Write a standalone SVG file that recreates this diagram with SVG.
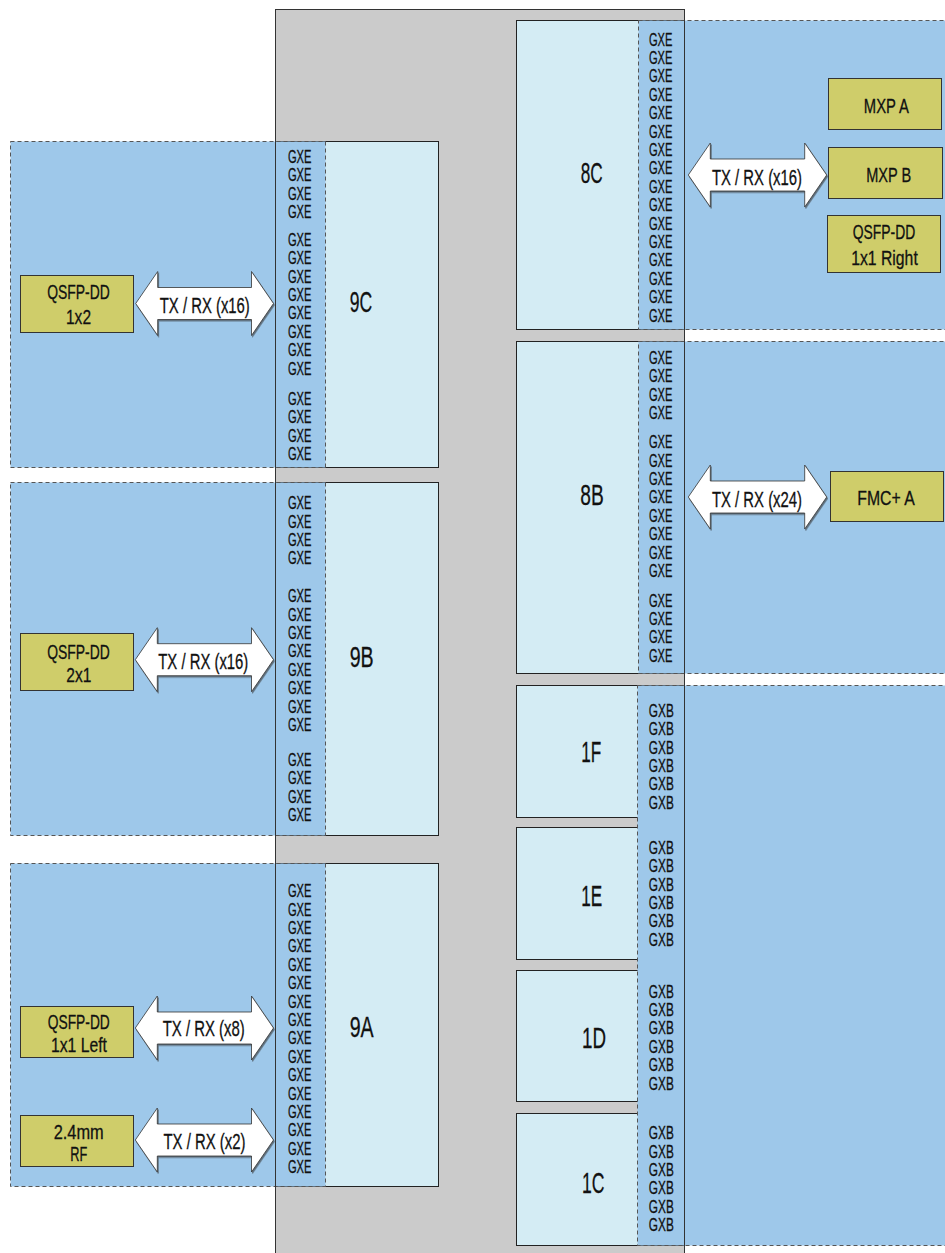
<svg xmlns="http://www.w3.org/2000/svg" width="945" height="1253" viewBox="0 0 945 1253">
<defs>
<style>
text{font-family:"Liberation Sans Narrow","Liberation Sans",Arial,sans-serif;fill:#111;stroke:#111;stroke-width:0.3}
.frame{fill:#cbcbcb}
.outline{fill:none;stroke:#333;stroke-width:1}
.bank{fill:#d4ecf4;stroke:#222;stroke-width:1}
.zone{fill:#9ec8ea;stroke:#555;stroke-width:1;stroke-dasharray:4 3}
.box{fill:#cfcd6a;stroke:#333;stroke-width:1}
.arrow{fill:#fff;stroke:#333;stroke-width:0.8;filter:url(#sh)}
.g{font-size:18px;text-anchor:middle}
.lbl{font-size:30px;text-anchor:middle}
.bx{font-size:21px;text-anchor:middle}
.tx{font-size:22px;text-anchor:middle}
</style>
<filter id="sh" x="-10%" y="-10%" width="120%" height="130%">
<feDropShadow dx="1" dy="1.5" stdDeviation="0.6" flood-color="#333" flood-opacity="0.6"/>
</filter>
</defs>

<g id="frame"><rect class="frame" x="275.5" y="9.5" width="409" height="1250"/></g>

<g id="bank-9C"><rect class="bank" x="275.5" y="141.5" width="163" height="326"/><text class="lbl" x="361" y="311.7" textLength="22.5" lengthAdjust="spacingAndGlyphs">9C</text></g>
<g id="bank-9B"><rect class="bank" x="275.5" y="482.5" width="163" height="353"/><text class="lbl" x="361.7" y="666.7" textLength="24" lengthAdjust="spacingAndGlyphs">9B</text></g>
<g id="bank-9A"><rect class="bank" x="275.5" y="863.5" width="163" height="323"/><text class="lbl" x="361.7" y="1036.7" textLength="24" lengthAdjust="spacingAndGlyphs">9A</text></g>
<g id="bank-8C"><rect class="bank" x="516.5" y="20.5" width="168" height="309"/><text class="lbl" x="591.7" y="183.3" textLength="22" lengthAdjust="spacingAndGlyphs">8C</text></g>
<g id="bank-8B"><rect class="bank" x="516.5" y="341.5" width="168" height="332"/><text class="lbl" x="592" y="505" textLength="23.5" lengthAdjust="spacingAndGlyphs">8B</text></g>
<g id="bank-1F"><rect class="bank" x="516.5" y="685.5" width="168" height="132"/><text class="lbl" x="591.2" y="761.7" textLength="20" lengthAdjust="spacingAndGlyphs">1F</text></g>
<g id="bank-1E"><rect class="bank" x="516.5" y="827.5" width="168" height="132"/><text class="lbl" x="591.7" y="905.7" textLength="21" lengthAdjust="spacingAndGlyphs">1E</text></g>
<g id="bank-1D"><rect class="bank" x="516.5" y="970.5" width="168" height="131"/><text class="lbl" x="594" y="1047.7" textLength="24" lengthAdjust="spacingAndGlyphs">1D</text></g>
<g id="bank-1C"><rect class="bank" x="516.5" y="1113.5" width="168" height="132"/><text class="lbl" x="593.2" y="1193.3" textLength="22.5" lengthAdjust="spacingAndGlyphs">1C</text></g>

<g id="zone-9C"><rect class="zone" x="10.5" y="141.5" width="315" height="326"/>
<text class="g" x="299.7" y="163" textLength="23.5" lengthAdjust="spacingAndGlyphs">GXE</text>
<text class="g" x="299.7" y="181.4" textLength="23.5" lengthAdjust="spacingAndGlyphs">GXE</text>
<text class="g" x="299.7" y="199.8" textLength="23.5" lengthAdjust="spacingAndGlyphs">GXE</text>
<text class="g" x="299.7" y="218.2" textLength="23.5" lengthAdjust="spacingAndGlyphs">GXE</text>
<text class="g" x="299.7" y="245.8" textLength="23.5" lengthAdjust="spacingAndGlyphs">GXE</text>
<text class="g" x="299.7" y="264.2" textLength="23.5" lengthAdjust="spacingAndGlyphs">GXE</text>
<text class="g" x="299.7" y="282.6" textLength="23.5" lengthAdjust="spacingAndGlyphs">GXE</text>
<text class="g" x="299.7" y="301" textLength="23.5" lengthAdjust="spacingAndGlyphs">GXE</text>
<text class="g" x="299.7" y="319.4" textLength="23.5" lengthAdjust="spacingAndGlyphs">GXE</text>
<text class="g" x="299.7" y="337.8" textLength="23.5" lengthAdjust="spacingAndGlyphs">GXE</text>
<text class="g" x="299.7" y="356.2" textLength="23.5" lengthAdjust="spacingAndGlyphs">GXE</text>
<text class="g" x="299.7" y="374.6" textLength="23.5" lengthAdjust="spacingAndGlyphs">GXE</text>
<text class="g" x="299.7" y="404.8" textLength="23.5" lengthAdjust="spacingAndGlyphs">GXE</text>
<text class="g" x="299.7" y="423.2" textLength="23.5" lengthAdjust="spacingAndGlyphs">GXE</text>
<text class="g" x="299.7" y="441.6" textLength="23.5" lengthAdjust="spacingAndGlyphs">GXE</text>
<text class="g" x="299.7" y="460" textLength="23.5" lengthAdjust="spacingAndGlyphs">GXE</text>
</g>

<g id="zone-9B"><rect class="zone" x="10.5" y="482.5" width="315" height="353"/>
<text class="g" x="299.7" y="509.2" textLength="23.5" lengthAdjust="spacingAndGlyphs">GXE</text>
<text class="g" x="299.7" y="527.6" textLength="23.5" lengthAdjust="spacingAndGlyphs">GXE</text>
<text class="g" x="299.7" y="546" textLength="23.5" lengthAdjust="spacingAndGlyphs">GXE</text>
<text class="g" x="299.7" y="564.4" textLength="23.5" lengthAdjust="spacingAndGlyphs">GXE</text>
<text class="g" x="299.7" y="602.2" textLength="23.5" lengthAdjust="spacingAndGlyphs">GXE</text>
<text class="g" x="299.7" y="620.6" textLength="23.5" lengthAdjust="spacingAndGlyphs">GXE</text>
<text class="g" x="299.7" y="639" textLength="23.5" lengthAdjust="spacingAndGlyphs">GXE</text>
<text class="g" x="299.7" y="657.4" textLength="23.5" lengthAdjust="spacingAndGlyphs">GXE</text>
<text class="g" x="299.7" y="675.8" textLength="23.5" lengthAdjust="spacingAndGlyphs">GXE</text>
<text class="g" x="299.7" y="694.2" textLength="23.5" lengthAdjust="spacingAndGlyphs">GXE</text>
<text class="g" x="299.7" y="712.6" textLength="23.5" lengthAdjust="spacingAndGlyphs">GXE</text>
<text class="g" x="299.7" y="731" textLength="23.5" lengthAdjust="spacingAndGlyphs">GXE</text>
<text class="g" x="299.7" y="765.8" textLength="23.5" lengthAdjust="spacingAndGlyphs">GXE</text>
<text class="g" x="299.7" y="784.2" textLength="23.5" lengthAdjust="spacingAndGlyphs">GXE</text>
<text class="g" x="299.7" y="802.6" textLength="23.5" lengthAdjust="spacingAndGlyphs">GXE</text>
<text class="g" x="299.7" y="821" textLength="23.5" lengthAdjust="spacingAndGlyphs">GXE</text>
</g>

<g id="zone-9A"><rect class="zone" x="10.5" y="863.5" width="315" height="323"/>
<text class="g" x="299.7" y="897.2" textLength="23.5" lengthAdjust="spacingAndGlyphs">GXE</text>
<text class="g" x="299.7" y="915.6" textLength="23.5" lengthAdjust="spacingAndGlyphs">GXE</text>
<text class="g" x="299.7" y="934" textLength="23.5" lengthAdjust="spacingAndGlyphs">GXE</text>
<text class="g" x="299.7" y="952.4" textLength="23.5" lengthAdjust="spacingAndGlyphs">GXE</text>
<text class="g" x="299.7" y="970.8" textLength="23.5" lengthAdjust="spacingAndGlyphs">GXE</text>
<text class="g" x="299.7" y="989.2" textLength="23.5" lengthAdjust="spacingAndGlyphs">GXE</text>
<text class="g" x="299.7" y="1007.6" textLength="23.5" lengthAdjust="spacingAndGlyphs">GXE</text>
<text class="g" x="299.7" y="1026" textLength="23.5" lengthAdjust="spacingAndGlyphs">GXE</text>
<text class="g" x="299.7" y="1044.4" textLength="23.5" lengthAdjust="spacingAndGlyphs">GXE</text>
<text class="g" x="299.7" y="1062.8" textLength="23.5" lengthAdjust="spacingAndGlyphs">GXE</text>
<text class="g" x="299.7" y="1081.2" textLength="23.5" lengthAdjust="spacingAndGlyphs">GXE</text>
<text class="g" x="299.7" y="1099.6" textLength="23.5" lengthAdjust="spacingAndGlyphs">GXE</text>
<text class="g" x="299.7" y="1118" textLength="23.5" lengthAdjust="spacingAndGlyphs">GXE</text>
<text class="g" x="299.7" y="1136.4" textLength="23.5" lengthAdjust="spacingAndGlyphs">GXE</text>
<text class="g" x="299.7" y="1154.8" textLength="23.5" lengthAdjust="spacingAndGlyphs">GXE</text>
<text class="g" x="299.7" y="1173.2" textLength="23.5" lengthAdjust="spacingAndGlyphs">GXE</text>
</g>

<g id="zone-8C"><rect class="zone" x="638.5" y="20.5" width="312" height="309"/>
<text class="g" x="660.7" y="45.5" textLength="23.5" lengthAdjust="spacingAndGlyphs">GXE</text>
<text class="g" x="660.7" y="63.9" textLength="23.5" lengthAdjust="spacingAndGlyphs">GXE</text>
<text class="g" x="660.7" y="82.3" textLength="23.5" lengthAdjust="spacingAndGlyphs">GXE</text>
<text class="g" x="660.7" y="100.7" textLength="23.5" lengthAdjust="spacingAndGlyphs">GXE</text>
<text class="g" x="660.7" y="119.1" textLength="23.5" lengthAdjust="spacingAndGlyphs">GXE</text>
<text class="g" x="660.7" y="137.5" textLength="23.5" lengthAdjust="spacingAndGlyphs">GXE</text>
<text class="g" x="660.7" y="155.9" textLength="23.5" lengthAdjust="spacingAndGlyphs">GXE</text>
<text class="g" x="660.7" y="174.3" textLength="23.5" lengthAdjust="spacingAndGlyphs">GXE</text>
<text class="g" x="660.7" y="192.7" textLength="23.5" lengthAdjust="spacingAndGlyphs">GXE</text>
<text class="g" x="660.7" y="211.1" textLength="23.5" lengthAdjust="spacingAndGlyphs">GXE</text>
<text class="g" x="660.7" y="229.5" textLength="23.5" lengthAdjust="spacingAndGlyphs">GXE</text>
<text class="g" x="660.7" y="247.9" textLength="23.5" lengthAdjust="spacingAndGlyphs">GXE</text>
<text class="g" x="660.7" y="266.3" textLength="23.5" lengthAdjust="spacingAndGlyphs">GXE</text>
<text class="g" x="660.7" y="284.7" textLength="23.5" lengthAdjust="spacingAndGlyphs">GXE</text>
<text class="g" x="660.7" y="303.1" textLength="23.5" lengthAdjust="spacingAndGlyphs">GXE</text>
<text class="g" x="660.7" y="321.5" textLength="23.5" lengthAdjust="spacingAndGlyphs">GXE</text>
</g>

<g id="zone-8B"><rect class="zone" x="638.5" y="341.5" width="312" height="332"/>
<text class="g" x="660.7" y="363.8" textLength="23.5" lengthAdjust="spacingAndGlyphs">GXE</text>
<text class="g" x="660.7" y="382.2" textLength="23.5" lengthAdjust="spacingAndGlyphs">GXE</text>
<text class="g" x="660.7" y="400.6" textLength="23.5" lengthAdjust="spacingAndGlyphs">GXE</text>
<text class="g" x="660.7" y="419" textLength="23.5" lengthAdjust="spacingAndGlyphs">GXE</text>
<text class="g" x="660.7" y="448.2" textLength="23.5" lengthAdjust="spacingAndGlyphs">GXE</text>
<text class="g" x="660.7" y="466.6" textLength="23.5" lengthAdjust="spacingAndGlyphs">GXE</text>
<text class="g" x="660.7" y="485" textLength="23.5" lengthAdjust="spacingAndGlyphs">GXE</text>
<text class="g" x="660.7" y="503.4" textLength="23.5" lengthAdjust="spacingAndGlyphs">GXE</text>
<text class="g" x="660.7" y="521.8" textLength="23.5" lengthAdjust="spacingAndGlyphs">GXE</text>
<text class="g" x="660.7" y="540.2" textLength="23.5" lengthAdjust="spacingAndGlyphs">GXE</text>
<text class="g" x="660.7" y="558.6" textLength="23.5" lengthAdjust="spacingAndGlyphs">GXE</text>
<text class="g" x="660.7" y="577" textLength="23.5" lengthAdjust="spacingAndGlyphs">GXE</text>
<text class="g" x="660.7" y="606.5" textLength="23.5" lengthAdjust="spacingAndGlyphs">GXE</text>
<text class="g" x="660.7" y="624.9" textLength="23.5" lengthAdjust="spacingAndGlyphs">GXE</text>
<text class="g" x="660.7" y="643.3" textLength="23.5" lengthAdjust="spacingAndGlyphs">GXE</text>
<text class="g" x="660.7" y="661.7" textLength="23.5" lengthAdjust="spacingAndGlyphs">GXE</text>
</g>

<g id="zone-1"><rect class="zone" x="637.5" y="685.5" width="313" height="560"/>
<text class="g" x="661.3" y="716.7" textLength="25" lengthAdjust="spacingAndGlyphs">GXB</text>
<text class="g" x="661.3" y="735.1" textLength="25" lengthAdjust="spacingAndGlyphs">GXB</text>
<text class="g" x="661.3" y="753.5" textLength="25" lengthAdjust="spacingAndGlyphs">GXB</text>
<text class="g" x="661.3" y="771.9" textLength="25" lengthAdjust="spacingAndGlyphs">GXB</text>
<text class="g" x="661.3" y="790.3" textLength="25" lengthAdjust="spacingAndGlyphs">GXB</text>
<text class="g" x="661.3" y="808.7" textLength="25" lengthAdjust="spacingAndGlyphs">GXB</text>
<text class="g" x="661.3" y="853.8" textLength="25" lengthAdjust="spacingAndGlyphs">GXB</text>
<text class="g" x="661.3" y="872.2" textLength="25" lengthAdjust="spacingAndGlyphs">GXB</text>
<text class="g" x="661.3" y="890.6" textLength="25" lengthAdjust="spacingAndGlyphs">GXB</text>
<text class="g" x="661.3" y="909" textLength="25" lengthAdjust="spacingAndGlyphs">GXB</text>
<text class="g" x="661.3" y="927.4" textLength="25" lengthAdjust="spacingAndGlyphs">GXB</text>
<text class="g" x="661.3" y="945.8" textLength="25" lengthAdjust="spacingAndGlyphs">GXB</text>
<text class="g" x="661.3" y="997.5" textLength="25" lengthAdjust="spacingAndGlyphs">GXB</text>
<text class="g" x="661.3" y="1015.9" textLength="25" lengthAdjust="spacingAndGlyphs">GXB</text>
<text class="g" x="661.3" y="1034.3" textLength="25" lengthAdjust="spacingAndGlyphs">GXB</text>
<text class="g" x="661.3" y="1052.7" textLength="25" lengthAdjust="spacingAndGlyphs">GXB</text>
<text class="g" x="661.3" y="1071.1" textLength="25" lengthAdjust="spacingAndGlyphs">GXB</text>
<text class="g" x="661.3" y="1089.5" textLength="25" lengthAdjust="spacingAndGlyphs">GXB</text>
<text class="g" x="661.3" y="1139.2" textLength="25" lengthAdjust="spacingAndGlyphs">GXB</text>
<text class="g" x="661.3" y="1157.6" textLength="25" lengthAdjust="spacingAndGlyphs">GXB</text>
<text class="g" x="661.3" y="1176" textLength="25" lengthAdjust="spacingAndGlyphs">GXB</text>
<text class="g" x="661.3" y="1194.4" textLength="25" lengthAdjust="spacingAndGlyphs">GXB</text>
<text class="g" x="661.3" y="1212.8" textLength="25" lengthAdjust="spacingAndGlyphs">GXB</text>
<text class="g" x="661.3" y="1231.2" textLength="25" lengthAdjust="spacingAndGlyphs">GXB</text>
</g>

<g id="frame-outline"><rect class="outline" x="275.5" y="9.5" width="409" height="1250"/></g>

<g id="qsfp-1x2"><rect class="box" x="20.5" y="275.5" width="113" height="57"/>
<text class="bx" x="78.5" y="298.5" textLength="62.5" lengthAdjust="spacingAndGlyphs">QSFP-DD</text>
<text class="bx" x="78.5" y="324.2" textLength="25" lengthAdjust="spacingAndGlyphs">1x2</text></g>
<g id="qsfp-2x1"><rect class="box" x="20.5" y="633.5" width="113" height="57"/>
<text class="bx" x="78.5" y="658.5" textLength="62.5" lengthAdjust="spacingAndGlyphs">QSFP-DD</text>
<text class="bx" x="78.8" y="681.9" textLength="25" lengthAdjust="spacingAndGlyphs">2x1</text></g>
<g id="qsfp-1x1-left"><rect class="box" x="20.5" y="1006.5" width="113" height="51"/>
<text class="bx" x="78.8" y="1029.2" textLength="62" lengthAdjust="spacingAndGlyphs">QSFP-DD</text>
<text class="bx" x="79" y="1051.9" textLength="56" lengthAdjust="spacingAndGlyphs">1x1 Left</text></g>
<g id="rf-2-4mm"><rect class="box" x="20.5" y="1115.5" width="113" height="51"/>
<text class="bx" x="78.7" y="1138.5" textLength="50" lengthAdjust="spacingAndGlyphs">2.4mm</text>
<text class="bx" x="78.7" y="1160.9" textLength="17" lengthAdjust="spacingAndGlyphs">RF</text></g>
<g id="mxp-a"><rect class="box" x="828.5" y="78.5" width="113" height="51"/>
<text class="bx" x="886.3" y="112.5" textLength="45" lengthAdjust="spacingAndGlyphs">MXP A</text></g>
<g id="mxp-b"><rect class="box" x="828.5" y="147.5" width="114" height="51"/>
<text class="bx" x="888.7" y="181.9" textLength="45" lengthAdjust="spacingAndGlyphs">MXP B</text></g>
<g id="qsfp-1x1-right"><rect class="box" x="827.5" y="215.5" width="113" height="57"/>
<text class="bx" x="884" y="239.2" textLength="62.5" lengthAdjust="spacingAndGlyphs">QSFP-DD</text>
<text class="bx" x="884.5" y="264.5" textLength="66.5" lengthAdjust="spacingAndGlyphs">1x1 Right</text></g>
<g id="fmc-a"><rect class="box" x="830.5" y="471.5" width="113" height="50"/>
<text class="bx" x="886" y="505.2" textLength="57.5" lengthAdjust="spacingAndGlyphs">FMC+ A</text></g>

<g id="connectors">
<g id="link-9C"><path class="arrow" d="M135.7,303.5 L157.7,271.5 L157.7,287.5 L251.5,287.5 L251.5,271.5 L273.5,303.5 L251.5,335.5 L251.5,319.5 L157.7,319.5 L157.7,335.5 Z"/>
<text class="tx" x="204.8" y="312.9" textLength="90" lengthAdjust="spacingAndGlyphs">TX / RX (x16)</text></g>
<g id="link-9B"><path class="arrow" d="M135.3,659.7 L157.3,627.7 L157.3,643.7 L251.5,643.7 L251.5,627.7 L273.5,659.7 L251.5,691.7 L251.5,675.7 L157.3,675.7 L157.3,691.7 Z"/>
<text class="tx" x="203.3" y="668.5" textLength="90" lengthAdjust="spacingAndGlyphs">TX / RX (x16)</text></g>
<g id="link-9A-x8"><path class="arrow" d="M135.3,1028 L157.3,996 L157.3,1012 L251.5,1012 L251.5,996 L273.5,1028 L251.5,1060 L251.5,1044 L157.3,1044 L157.3,1060 Z"/>
<text class="tx" x="203.7" y="1035.9" textLength="82" lengthAdjust="spacingAndGlyphs">TX / RX (x8)</text></g>
<g id="link-9A-x2"><path class="arrow" d="M135.3,1140 L157.3,1108 L157.3,1124 L251.5,1124 L251.5,1108 L273.5,1140 L251.5,1172 L251.5,1156 L157.3,1156 L157.3,1172 Z"/>
<text class="tx" x="204.5" y="1148.5" textLength="82" lengthAdjust="spacingAndGlyphs">TX / RX (x2)</text></g>
<g id="link-8C"><path class="arrow" d="M688.3,175 L710.3,143 L710.3,159 L804.7,159 L804.7,143 L826.7,175 L804.7,207 L804.7,191 L710.3,191 L710.3,207 Z"/>
<text class="tx" x="757" y="185.2" textLength="90" lengthAdjust="spacingAndGlyphs">TX / RX (x16)</text></g>
<g id="link-8B"><path class="arrow" d="M688.3,497 L710.3,465 L710.3,481 L804.7,481 L804.7,465 L826.7,497 L804.7,529 L804.7,513 L710.3,513 L710.3,529 Z"/>
<text class="tx" x="757" y="506.9" textLength="90" lengthAdjust="spacingAndGlyphs">TX / RX (x24)</text></g>
</g>
</svg>
